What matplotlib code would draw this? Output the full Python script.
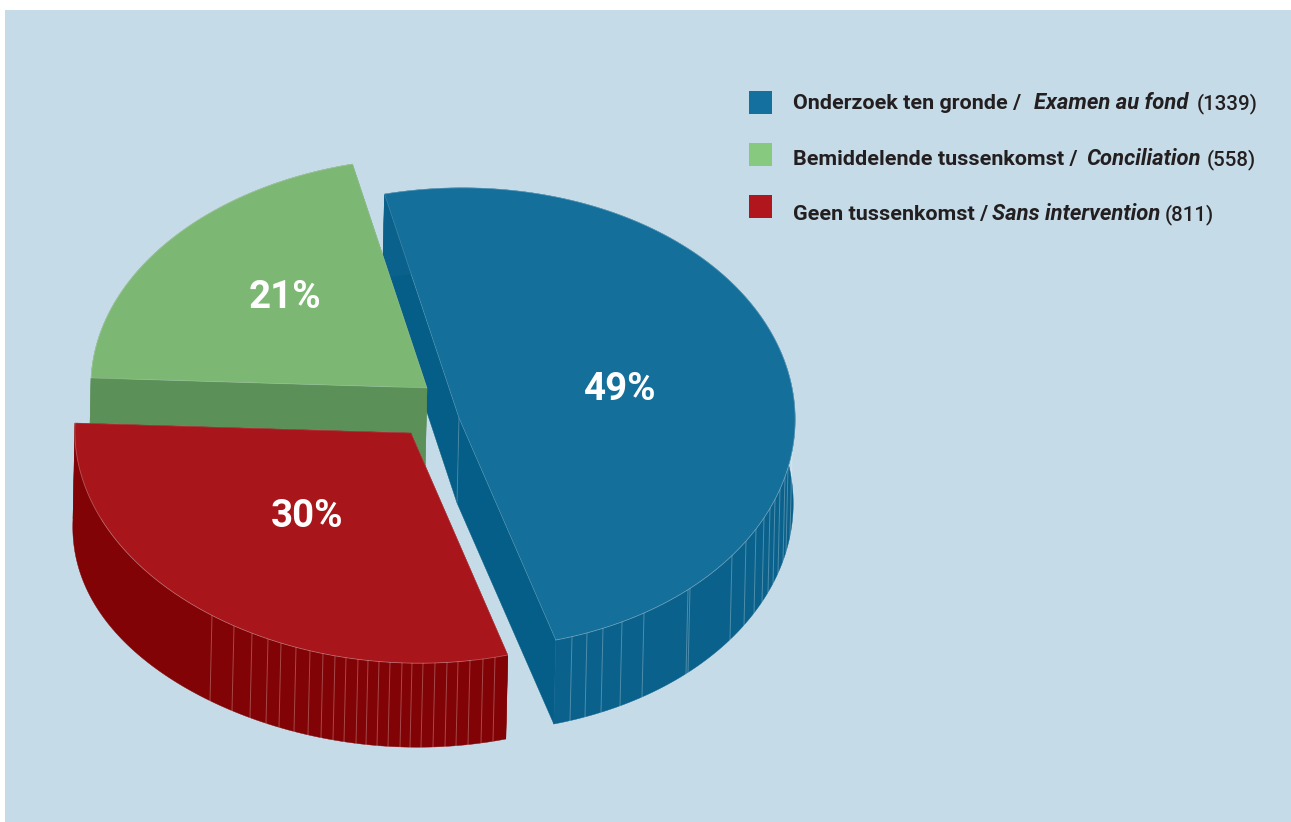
import numpy as np
import matplotlib
matplotlib.use("Agg")
import matplotlib.pyplot as plt
from matplotlib.patches import Polygon, Rectangle

# drawing order: blue at the back, then green, then red
names_nl = ["Onderzoek ten gronde /", "Bemiddelende tussenkomst /", "Geen tussenkomst /"]
names_fr = ["Examen au fond", "Conciliation", "Sans intervention"]
counts = [1339, 558, 811]

top_colors = ["#146F9B", "#7CB874", "#A8151A"]
side_colors = ["#045E87", "#5C9059", "#810305"]
rim_colors = ["#0A618B", "#5C9059", "#820305"]
swatch_colors = ["#14709F", "#86C97F", "#B0161B"]

# slice tips in figure pixels (each slice is pulled out of the pie on its own)
apexes = [(459, 418), (427, 388), (411, 433)]
pct_pos = [(620, 389), (285, 297), (307, 516)]
swatch_y = [102.5, 154.5, 206.5]
text_y = [109, 165, 220]
# where the runs of each legend line start
run_x = [(793, 1034, 1197), (793, 1086, 1207), (793, 992, 1165)]

# tilted disc: radius vectors in pixels
AX, AY = -336.0, -10.0
BX, BY = 12.0, -230.0
BOW = 6.0

# thin seams on the rim, by x position
seams = {
    0: [572, 587, 603, 622, 644, 688, 690, 732, 746, 756, 764, 770, 775, 780, 785, 788, 792],
    2: [212, 234, 252, 268, 281, 296, 310, 323, 335, 346, 358, 368, 379, 390, 402,
        412, 423, 435, 447, 458, 470, 483, 495],
}

FONT = "Roboto"
PX = 0.72  # points per pixel at dpi 100


def disc(phi):
    c, s = np.cos(phi), np.sin(phi)
    return AX * c + BX * s + BOW * s ** 2, AY * c + BY * s


def depth(phi):
    return 84.0 + 12.0 * np.clip(np.cos(phi), 0, 1) ** 4


fig = plt.figure(figsize=(12.91, 8.22), dpi=100, facecolor="white")
ax = fig.add_axes([0, 0, 1, 1])
ax.set_xlim(0, 1291)
ax.set_ylim(822, 0)
ax.axis("off")
ax.add_patch(Rectangle((5, 10), 1286, 812, fc="#C6DBE8", ec="none", zorder=0))

total = sum(counts)
# green, blue, red run clockwise from the left edge of the disc
frac = 2 * np.pi / total
spans = [
    (counts[1] * frac, (counts[1] + counts[0]) * frac),
    (0.0, counts[1] * frac),
    ((counts[1] + counts[0]) * frac, 2 * np.pi),
]

for i, n in enumerate(counts):
    x0, y0 = apexes[i]
    phi = np.linspace(spans[i][0], spans[i][1], 300)
    dx, dy = disc(phi)
    tx, ty = x0 + dx, y0 + dy
    bx, by = tx - 2, ty + depth(phi)
    z = 2 + i * 2
    tip_b = (x0 - 2, y0 + 85)

    # radial cut faces
    for k in (0, -1):
        ax.add_patch(Polygon([(tx[k], ty[k]), (x0, y0), tip_b, (bx[k], by[k])],
                             fc=side_colors[i], ec=side_colors[i], lw=0.3, zorder=z))
    # outer rim
    rim = np.r_[np.c_[tx, ty], np.c_[bx, by][::-1]]
    ax.add_patch(Polygon(rim, fc=rim_colors[i], ec=rim_colors[i], lw=0.3, zorder=z))

    if i in seams:
        # only the front half of the arc is visible
        front = np.sin(phi) < 0
        order = np.argsort(tx[front])
        for sx in seams[i]:
            p = np.interp(sx, tx[front][order], phi[front][order])
            px, py = disc(p)
            ax.plot([x0 + px, x0 + px - 2], [y0 + py, y0 + py + depth(p)],
                    color="white", lw=0.7, alpha=0.28, zorder=z)
    if i == 0:
        ax.plot([x0, x0 - 2], [y0, y0 + 85], color="white", lw=0.7, alpha=0.22, zorder=z)

    # top face
    top = np.r_[[(x0, y0)], np.c_[tx, ty]]
    ax.add_patch(Polygon(top, fc=top_colors[i], ec="none", zorder=z + 1))
    ax.plot(np.r_[tx[0], x0, tx[-1]], np.r_[ty[0], y0, ty[-1]],
            color="white", lw=0.5, alpha=0.2, zorder=z + 1)
    ax.plot(tx, ty, color="white", lw=0.6, alpha=0.3, zorder=z + 1)

    ax.text(*pct_pos[i], f"{round(100 * n / total)}%", color="white", fontsize=38.5 * PX,
            fontweight="bold", family=FONT, ha="center", va="center", zorder=20)

# legend: three runs of text on one line
for i in range(3):
    ax.add_patch(Rectangle((749, swatch_y[i] - 11.5), 23, 23, fc=swatch_colors[i], ec="none", zorder=3))
    runs = [
        (names_nl[i], "normal", "bold", 21.5),
        (names_fr[i], "italic", "bold", 22),
        (f"({counts[i]})", "normal", "medium", 20.5),
    ]
    for x, (s, style, weight, size) in zip(run_x[i], runs):
        ax.text(x, text_y[i], s, color="#231F20", fontsize=size * PX, family=FONT,
                style=style, fontweight=weight, ha="left", va="baseline", zorder=20)

fig.savefig("out.png", dpi=100)
